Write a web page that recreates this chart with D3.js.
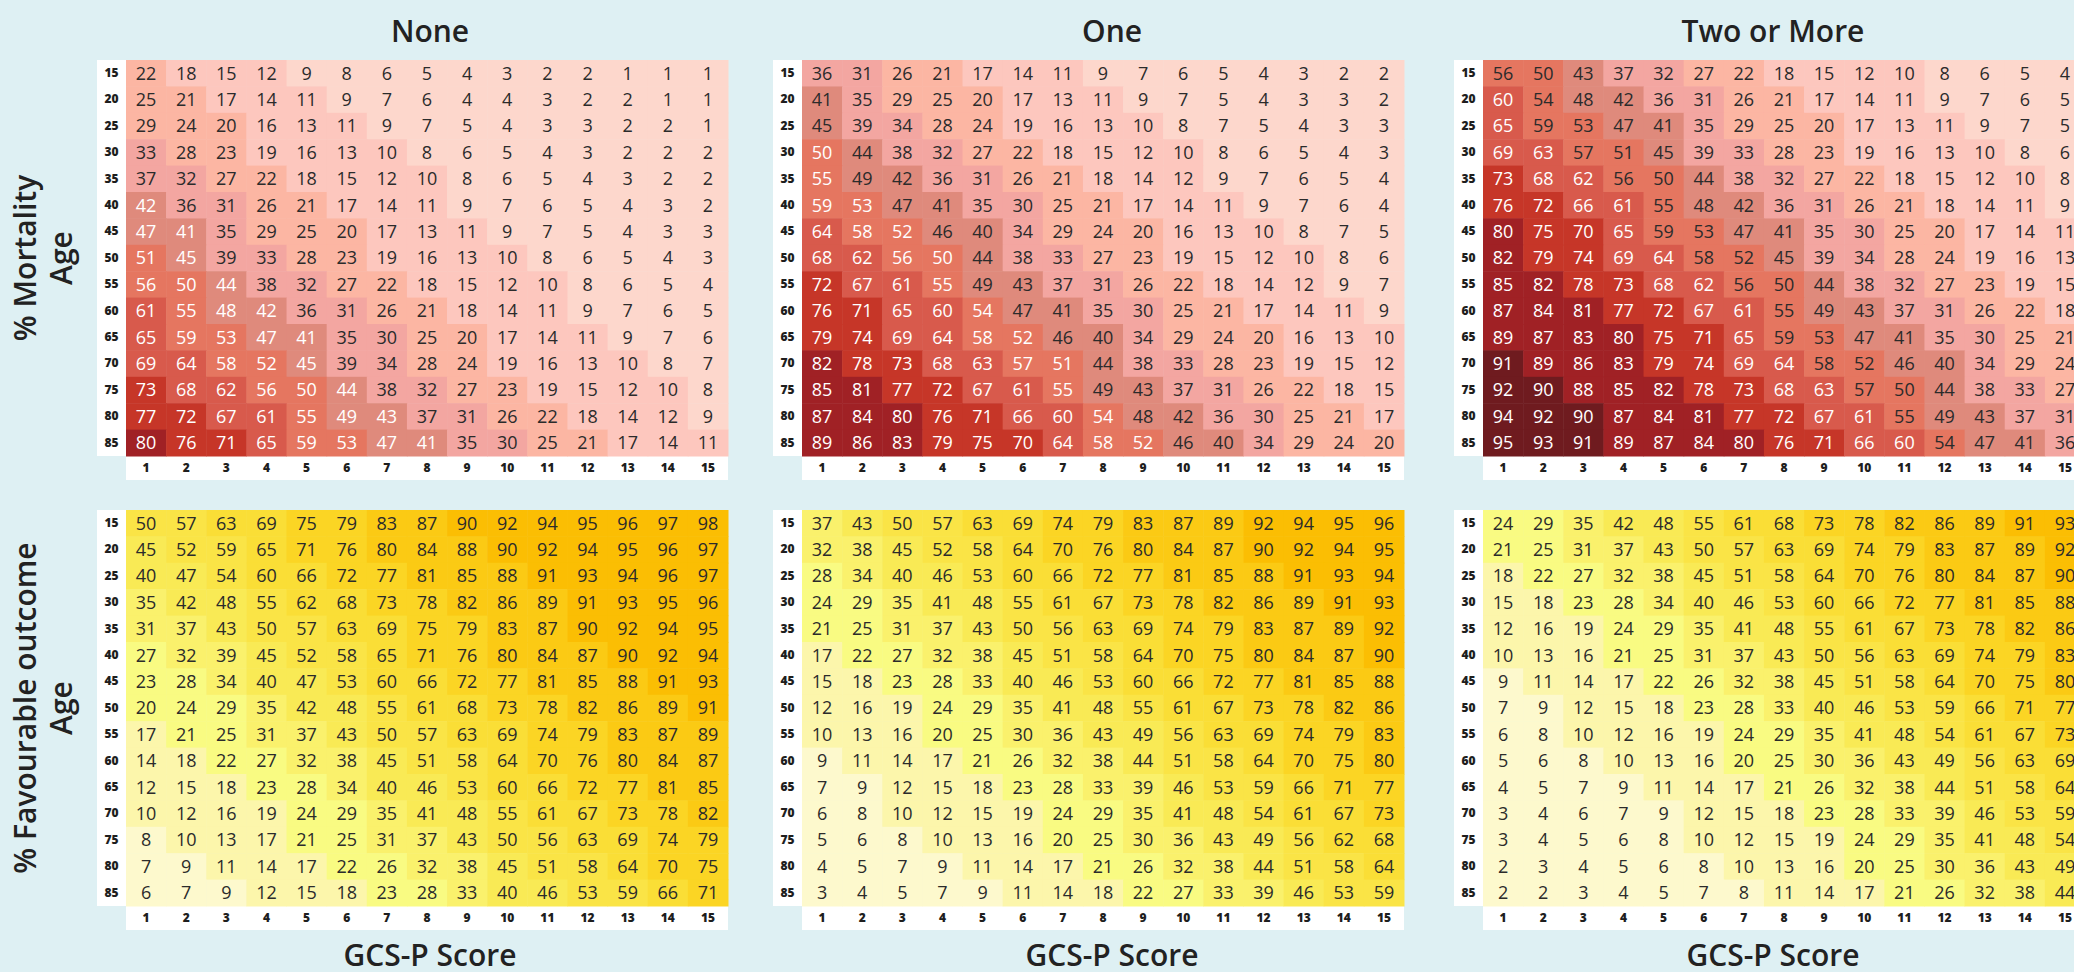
<!DOCTYPE html>
<html>
<head>
<meta charset="utf-8">
<script src="https://cdn.jsdelivr.net/npm/d3@7"></script>
<style>
  html, body { margin: 0; padding: 0; background: #def0f3; }
  svg { display: block; font-family: "Open Sans", "Noto Sans", sans-serif; }
</style>
</head>
<body>
<svg id="chart" width="2074" height="972"></svg>
<script>
// ---------------- data ----------------
const ages = [15, 20, 25, 30, 35, 40, 45, 50, 55, 60, 65, 70, 75, 80, 85];
const scores = [1, 2, 3, 4, 5, 6, 7, 8, 9, 10, 11, 12, 13, 14, 15];
const groups = ["None", "One", "Two or More"];
const rowTitles = [["% Mortality", "Age"], ["% Favourable outcome", "Age"]];
const xTitle = "GCS-P Score";

const mortNone = [
  [22,18,15,12,9,8,6,5,4,3,2,2,1,1,1],
  [25,21,17,14,11,9,7,6,4,4,3,2,2,1,1],
  [29,24,20,16,13,11,9,7,5,4,3,3,2,2,1],
  [33,28,23,19,16,13,10,8,6,5,4,3,2,2,2],
  [37,32,27,22,18,15,12,10,8,6,5,4,3,2,2],
  [42,36,31,26,21,17,14,11,9,7,6,5,4,3,2],
  [47,41,35,29,25,20,17,13,11,9,7,5,4,3,3],
  [51,45,39,33,28,23,19,16,13,10,8,6,5,4,3],
  [56,50,44,38,32,27,22,18,15,12,10,8,6,5,4],
  [61,55,48,42,36,31,26,21,18,14,11,9,7,6,5],
  [65,59,53,47,41,35,30,25,20,17,14,11,9,7,6],
  [69,64,58,52,45,39,34,28,24,19,16,13,10,8,7],
  [73,68,62,56,50,44,38,32,27,23,19,15,12,10,8],
  [77,72,67,61,55,49,43,37,31,26,22,18,14,12,9],
  [80,76,71,65,59,53,47,41,35,30,25,21,17,14,11]
];
const mortOne = [
  [36,31,26,21,17,14,11,9,7,6,5,4,3,2,2],
  [41,35,29,25,20,17,13,11,9,7,5,4,3,3,2],
  [45,39,34,28,24,19,16,13,10,8,7,5,4,3,3],
  [50,44,38,32,27,22,18,15,12,10,8,6,5,4,3],
  [55,49,42,36,31,26,21,18,14,12,9,7,6,5,4],
  [59,53,47,41,35,30,25,21,17,14,11,9,7,6,4],
  [64,58,52,46,40,34,29,24,20,16,13,10,8,7,5],
  [68,62,56,50,44,38,33,27,23,19,15,12,10,8,6],
  [72,67,61,55,49,43,37,31,26,22,18,14,12,9,7],
  [76,71,65,60,54,47,41,35,30,25,21,17,14,11,9],
  [79,74,69,64,58,52,46,40,34,29,24,20,16,13,10],
  [82,78,73,68,63,57,51,44,38,33,28,23,19,15,12],
  [85,81,77,72,67,61,55,49,43,37,31,26,22,18,15],
  [87,84,80,76,71,66,60,54,48,42,36,30,25,21,17],
  [89,86,83,79,75,70,64,58,52,46,40,34,29,24,20]
];
const mortTwo = [
  [56,50,43,37,32,27,22,18,15,12,10,8,6,5,4],
  [60,54,48,42,36,31,26,21,17,14,11,9,7,6,5],
  [65,59,53,47,41,35,29,25,20,17,13,11,9,7,5],
  [69,63,57,51,45,39,33,28,23,19,16,13,10,8,6],
  [73,68,62,56,50,44,38,32,27,22,18,15,12,10,8],
  [76,72,66,61,55,48,42,36,31,26,21,18,14,11,9],
  [80,75,70,65,59,53,47,41,35,30,25,20,17,14,11],
  [82,79,74,69,64,58,52,45,39,34,28,24,19,16,13],
  [85,82,78,73,68,62,56,50,44,38,32,27,23,19,15],
  [87,84,81,77,72,67,61,55,49,43,37,31,26,22,18],
  [89,87,83,80,75,71,65,59,53,47,41,35,30,25,21],
  [91,89,86,83,79,74,69,64,58,52,46,40,34,29,24],
  [92,90,88,85,82,78,73,68,63,57,50,44,38,33,27],
  [94,92,90,87,84,81,77,72,67,61,55,49,43,37,31],
  [95,93,91,89,87,84,80,76,71,66,60,54,47,41,36]
];
const favNone = [
  [50,57,63,69,75,79,83,87,90,92,94,95,96,97,98],
  [45,52,59,65,71,76,80,84,88,90,92,94,95,96,97],
  [40,47,54,60,66,72,77,81,85,88,91,93,94,96,97],
  [35,42,48,55,62,68,73,78,82,86,89,91,93,95,96],
  [31,37,43,50,57,63,69,75,79,83,87,90,92,94,95],
  [27,32,39,45,52,58,65,71,76,80,84,87,90,92,94],
  [23,28,34,40,47,53,60,66,72,77,81,85,88,91,93],
  [20,24,29,35,42,48,55,61,68,73,78,82,86,89,91],
  [17,21,25,31,37,43,50,57,63,69,74,79,83,87,89],
  [14,18,22,27,32,38,45,51,58,64,70,76,80,84,87],
  [12,15,18,23,28,34,40,46,53,60,66,72,77,81,85],
  [10,12,16,19,24,29,35,41,48,55,61,67,73,78,82],
  [8,10,13,17,21,25,31,37,43,50,56,63,69,74,79],
  [7,9,11,14,17,22,26,32,38,45,51,58,64,70,75],
  [6,7,9,12,15,18,23,28,33,40,46,53,59,66,71]
];
const favOne = [
  [37,43,50,57,63,69,74,79,83,87,89,92,94,95,96],
  [32,38,45,52,58,64,70,76,80,84,87,90,92,94,95],
  [28,34,40,46,53,60,66,72,77,81,85,88,91,93,94],
  [24,29,35,41,48,55,61,67,73,78,82,86,89,91,93],
  [21,25,31,37,43,50,56,63,69,74,79,83,87,89,92],
  [17,22,27,32,38,45,51,58,64,70,75,80,84,87,90],
  [15,18,23,28,33,40,46,53,60,66,72,77,81,85,88],
  [12,16,19,24,29,35,41,48,55,61,67,73,78,82,86],
  [10,13,16,20,25,30,36,43,49,56,63,69,74,79,83],
  [9,11,14,17,21,26,32,38,44,51,58,64,70,75,80],
  [7,9,12,15,18,23,28,33,39,46,53,59,66,71,77],
  [6,8,10,12,15,19,24,29,35,41,48,54,61,67,73],
  [5,6,8,10,13,16,20,25,30,36,43,49,56,62,68],
  [4,5,7,9,11,14,17,21,26,32,38,44,51,58,64],
  [3,4,5,7,9,11,14,18,22,27,33,39,46,53,59]
];
const favTwo = [
  [24,29,35,42,48,55,61,68,73,78,82,86,89,91,93],
  [21,25,31,37,43,50,57,63,69,74,79,83,87,89,92],
  [18,22,27,32,38,45,51,58,64,70,76,80,84,87,90],
  [15,18,23,28,34,40,46,53,60,66,72,77,81,85,88],
  [12,16,19,24,29,35,41,48,55,61,67,73,78,82,86],
  [10,13,16,21,25,31,37,43,50,56,63,69,74,79,83],
  [9,11,14,17,22,26,32,38,45,51,58,64,70,75,80],
  [7,9,12,15,18,23,28,33,40,46,53,59,66,71,77],
  [6,8,10,12,16,19,24,29,35,41,48,54,61,67,73],
  [5,6,8,10,13,16,20,25,30,36,43,49,56,63,69],
  [4,5,7,9,11,14,17,21,26,32,38,44,51,58,64],
  [3,4,6,7,9,12,15,18,23,28,33,39,46,53,59],
  [3,4,5,6,8,10,12,15,19,24,29,35,41,48,54],
  [2,3,4,5,6,8,10,13,16,20,25,30,36,43,49],
  [2,2,3,4,5,7,8,11,14,17,21,26,32,38,44]
];
// value from which the numbers turn white, per mortality panel
const whiteFrom = [40, 50, 60];

// colour bins (every 10 %)
const binEdges = [10, 20, 30, 40, 50, 60, 70, 80, 90];
const mortColors = ["#fdd7cc", "#fdc7be", "#fcb6a3", "#f3a6a1", "#df8a7c",
                    "#e57660", "#d85a4c", "#c63628", "#a02125", "#6f1b1f"];
const favColors  = ["#fdf9cd", "#fcf6ab", "#f9fb82", "#faf16c", "#f9ea55",
                    "#fae446", "#fade36", "#fbd524", "#fbca14", "#fbbe03"];

// ---------------- layout ----------------
const W = 2074, H = 972;
const panelX = [126, 802, 1483];
const titleX = [430, 1112, 1773];
const panelY = [60, 510];
const gridW = 602, gridH = 396;
const labW = 29, bandH = 24;

const svg = d3.select("#chart");
svg.append("rect").attr("width", W).attr("height", H).attr("fill", "#def0f3");

const mortScale = d3.scaleThreshold().domain(binEdges).range(mortColors);
const favScale = d3.scaleThreshold().domain(binEdges).range(favColors);

const datasets = [
  [mortNone, mortOne, mortTwo],
  [favNone, favOne, favTwo]
];

datasets.forEach((rowSets, r) => {
  rowSets.forEach((matrix, c) => {
    const x0 = panelX[c], y0 = panelY[r];
    const x = d3.scaleBand().domain(scores).range([x0, x0 + gridW]);
    const y = d3.scaleBand().domain(ages).range([y0, y0 + gridH]);
    const color = r === 0 ? mortScale : favScale;
    const g = svg.append("g");

    // white label backgrounds
    g.append("rect").attr("x", x0 - labW).attr("y", y0)
      .attr("width", labW).attr("height", gridH).attr("fill", "#ffffff");
    g.append("rect").attr("x", x0).attr("y", y0 + gridH)
      .attr("width", gridW).attr("height", bandH).attr("fill", "#ffffff");

    const cells = [];
    matrix.forEach((row, i) => row.forEach((v, j) => cells.push({age: ages[i], score: scores[j], v})));

    g.selectAll("rect.cell").data(cells).join("rect")
      .attr("class", "cell")
      .attr("x", d => x(d.score))
      .attr("y", d => y(d.age))
      .attr("width", x.bandwidth() + 0.5)
      .attr("height", y.bandwidth() + 0.5)
      .attr("fill", d => color(d.v));

    g.selectAll("text.val").data(cells).join("text")
      .attr("class", "val")
      .attr("x", d => x(d.score) + x.bandwidth() / 2)
      .attr("y", d => y(d.age) + y.bandwidth() / 2)
      .attr("dy", "0.36em")
      .attr("text-anchor", "middle")
      .attr("font-size", 18)
      .attr("fill", d => (r === 0 && d.v >= whiteFrom[c]) ? "#ffffff" : "#2b2b2b")
      .text(d => d.v);

    // axes
    const yAxis = d3.axisLeft(y).tickSize(0).tickPadding(0);
    const ya = g.append("g").attr("transform", `translate(${x0 - labW / 2},0)`).call(yAxis);
    ya.select(".domain").remove();
    ya.selectAll("text").attr("text-anchor", "middle").attr("x", 0)
      .attr("font-size", 12).attr("font-weight", 800).attr("fill", "#1e1e1e")
      .attr("font-family", "'Open Sans', sans-serif");

    const xAxis = d3.axisBottom(x).tickSize(0).tickPadding(0);
    const xa = g.append("g").attr("transform", `translate(0,${y0 + gridH + bandH / 2})`).call(xAxis);
    xa.select(".domain").remove();
    xa.selectAll("text").attr("y", 0).attr("dy", "0.36em")
      .attr("font-size", 12).attr("font-weight", 800).attr("fill", "#1e1e1e")
      .attr("font-family", "'Open Sans', sans-serif");

    if (r === 0) {
      svg.append("text").attr("x", titleX[c]).attr("y", 42)
        .attr("text-anchor", "middle").attr("font-size", 30).attr("font-weight", 600)
        .attr("fill", "#222").text(groups[c]);
    } else {
      svg.append("text").attr("x", titleX[c]).attr("y", 966)
        .attr("text-anchor", "middle").attr("font-size", 30).attr("font-weight", 600)
        .attr("fill", "#222").text(xTitle);
    }
  });

  // row titles (rotated, two lines)
  const cy = panelY[r] + gridH / 2;
  rowTitles[r].forEach((t, k) => {
    svg.append("text")
      .attr("transform", `translate(${36 + k * 36},${cy}) rotate(-90)`)
      .attr("text-anchor", "middle").attr("font-size", 30).attr("font-weight", 600)
      .attr("fill", "#222").text(t);
  });
});
</script>
</body>
</html>
